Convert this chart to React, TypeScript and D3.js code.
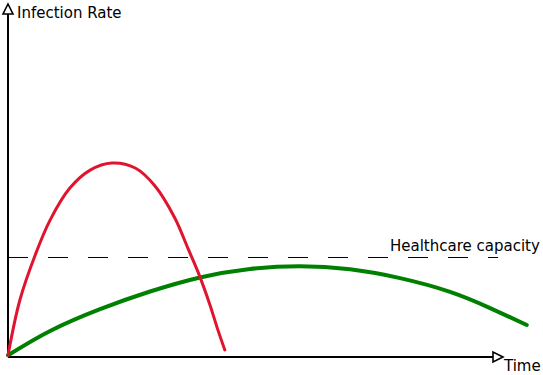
import * as d3 from 'd3';
import {useEffect, useRef} from 'react';

// time 0..100 along the x axis, rate 0..100 up the y axis
const redTime = [0, 2.4, 5.5, 8.5, 12.5, 16.6, 21, 25.7, 29.7, 33.7, 36.4, 38.4, 40.8, 42.4, 43.8];
const redRate = [0.5, 16.2, 29, 38.9, 48, 53.1, 55.1, 53.7, 48.6, 39.5, 30.7, 24.1, 14.8, 7.7, 2];

const greenTime = [0, 8.5, 18.6, 28.7, 38.8, 48.9, 59, 69.1, 79.2, 89.3, 97.4, 104.8];
const greenRate = [0.5, 7.4, 13.6, 18.6, 22.6, 25.0, 25.8, 24.9, 22.4, 18.5, 13.9, 9.1];

const capacity = 28.27;
const labels = {y: 'Infection Rate', x: 'Time', cap: 'Healthcare capacity'};

export default function App() {
  const ref = useRef<SVGSVGElement>(null);

  useEffect(() => {
    const svg = d3.select(ref.current);
    svg.selectAll('*').remove();

    const x = d3.scaleLinear().domain([0, 100]).range([8, 503]);
    const y = d3.scaleLinear().domain([0, 100]).range([357, 5]);
    const font = '"DejaVu Sans", Verdana, sans-serif';

    // axes
    svg.append('line')
      .attr('x1', x(0)).attr('y1', y(0)).attr('x2', x(0)).attr('y2', y(100) + 9)
      .attr('stroke', '#000').attr('stroke-width', 2);
    svg.append('line')
      .attr('x1', x(0)).attr('y1', y(0)).attr('x2', x(100) - 9).attr('y2', y(0))
      .attr('stroke', '#000').attr('stroke-width', 2);

    // open arrow heads
    const ax = x(0), ay = y(100);
    svg.append('path')
      .attr('d', `M${ax},${ay - 1} L${ax + 5},${ay + 9} L${ax - 5},${ay + 9} Z`)
      .attr('fill', '#fff').attr('stroke', '#000').attr('stroke-width', 1.6);
    const bx = x(100), by = y(0);
    svg.append('path')
      .attr('d', `M${bx},${by} L${bx - 10},${by - 5} L${bx - 10},${by + 5} Z`)
      .attr('fill', '#fff').attr('stroke', '#000').attr('stroke-width', 1.6);

    // capacity line
    svg.append('line')
      .attr('x1', x(0)).attr('y1', y(capacity)).attr('x2', x(99)).attr('y2', y(capacity))
      .attr('stroke', '#000').attr('stroke-width', 1)
      .attr('stroke-dasharray', '20,20');

    const line = d3.line<[number, number]>()
      .x(d => x(d[0])).y(d => y(d[1]))
      .curve(d3.curveNatural);

    svg.append('path')
      .attr('d', line(greenTime.map((t, i) => [t, greenRate[i]]))!)
      .attr('fill', 'none').attr('stroke', '#008000').attr('stroke-width', 4)
      .attr('stroke-linecap', 'round');

    svg.append('path')
      .attr('d', d3.line<[number, number]>().x(d => x(d[0])).y(d => y(d[1]))
        .curve(d3.curveCatmullRom)(redTime.map((t, i) => [t, redRate[i]]))!)
      .attr('fill', 'none').attr('stroke', '#e0142e').attr('stroke-width', 3)
      .attr('stroke-linecap', 'round');

    svg.append('text')
      .attr('x', 17).attr('y', 18)
      .attr('font-family', font).attr('font-size', 15).attr('fill', '#000')
      .text(labels.y);
    svg.append('text')
      .attr('x', 504).attr('y', 371)
      .attr('font-family', font).attr('font-size', 15).attr('fill', '#000')
      .text(labels.x);
    svg.append('text')
      .attr('x', 390).attr('y', 251)
      .attr('font-family', font).attr('font-size', 15).attr('fill', '#000')
      .text(labels.cap);
  }, []);

  return (
    <svg ref={ref} width={543} height={375}
      style={{position: 'absolute', left: 0, top: 0, background: '#fff'}} />
  );
}
